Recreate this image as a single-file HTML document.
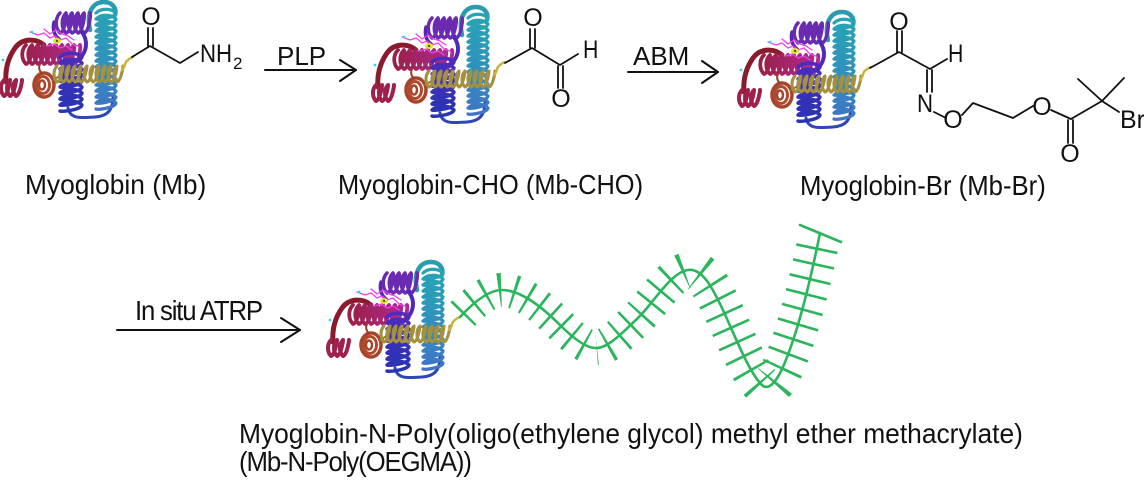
<!DOCTYPE html>
<html>
<head>
<meta charset="utf-8">
<style>
html,body{margin:0;padding:0;background:#fff;width:1144px;height:490px;overflow:hidden}
svg{display:block}
text{font-family:"Liberation Sans",sans-serif;fill:#111}
</style>
</head>
<body>
<svg width="1144" height="490" viewBox="0 0 1144 490" xmlns="http://www.w3.org/2000/svg">
<defs>
  <linearGradient id="gTeal" x1="0" y1="0" x2="0" y2="1">
    <stop offset="0" stop-color="#25a6b4"/>
    <stop offset="0.55" stop-color="#3090bd"/>
    <stop offset="1" stop-color="#3f74c6"/>
  </linearGradient>
  <linearGradient id="gBlue" x1="0" y1="0" x2="0" y2="1">
    <stop offset="0" stop-color="#4b2cc0"/>
    <stop offset="1" stop-color="#2834b2"/>
  </linearGradient>
  <linearGradient id="gMag" x1="0" y1="0" x2="1" y2="0">
    <stop offset="0" stop-color="#9a2046"/>
    <stop offset="1" stop-color="#b02a92"/>
  </linearGradient>
  <g id="prot" fill="none" stroke-linecap="round" stroke-linejoin="round">
    <path d="M68 108 C70 119 80 118 95 117 C108 116 113 110 113 96" stroke="#2f46b6" stroke-width="3"/>
    <path d="M90 30 C86 12 93 2 104 2 C112 2 117 8 115 15" stroke="#2a9cb0" stroke-width="4.5"/>
    <path stroke="url(#gTeal)" stroke-width="3.2" d="M96 13 c5 -5 15 -5 20 0 -1 5 -19 7 -20 6 5 -5 15 -5 20 0 -1 5 -19 7 -20 6 5 -5 15 -5 20 0 -1 5 -19 7 -20 6 5 -5 15 -5 20 0 -1 5 -19 7 -20 6 5 -5 15 -5 20 0 -1 5 -19 7 -20 6 5 -5 15 -5 20 0 -1 5 -19 7 -20 6 5 -5 15 -5 20 0 -1 5 -19 7 -20 6 5 -5 15 -5 20 0 -1 5 -19 7 -20 6 5 -5 15 -5 20 0 -1 5 -19 7 -20 6 5 -5 15 -5 20 0 -1 5 -19 7 -20 6 5 -5 15 -5 20 0 -1 5 -19 7 -20 6 5 -5 15 -5 20 0 -1 5 -19 7 -20 6 5 -5 15 -5 20 0 -1 5 -19 7 -20 6 5 -5 15 -5 20 0 -1 5 -19 7 -20 6 5 -5 15 -5 20 0 -1 5 -19 7 -20 6 5 -5 15 -5 20 0 -1 5 -19 7 -20 6"/>
    <path d="M54 22 C52 30 55 36 59 39" stroke="#5a26b0" stroke-width="3.5"/>
    <path stroke="#6a2ab2" stroke-width="3.5" d="M60 13 c-5 5 -5 15 0 20 5 -1 7 -19 6 -20 -5 5 -5 15 0 20 5 -1 7 -19 6 -20 -5 5 -5 15 0 20 5 -1 7 -19 6 -20 -5 5 -5 15 0 20 5 -1 7 -19 6 -20 -5 5 -5 15 0 20 5 -1 7 -19 6 -20"/>
    <path d="M44 45 C36 38 22 38 15 48 C8 58 5 70 6 82" stroke="#8a1a2c" stroke-width="5"/>
    <path stroke="#a0204c" stroke-width="4" d="M4 80 c-4 4 -4 12 0 16 4 -1 6 -15 6 -16 -4 4 -4 12 0 16 4 -1 6 -15 6 -16 -4 4 -4 12 0 16 4 -1 6 -15 6 -16"/>
    <path stroke="url(#gMag)" stroke-width="3.8" d="M26 45 c-5 5 -5 14 0 19 5 -1 7 -18 6 -19 -5 5 -5 14 0 19 5 -1 7 -18 6 -19 -5 5 -5 14 0 19 5 -1 7 -18 6 -19 -5 5 -5 14 0 19 5 -1 7 -18 6 -19 -5 5 -5 14 0 19 5 -1 7 -18 6 -19 -5 5 -5 14 0 19 5 -1 7 -18 6 -19 -5 5 -5 14 0 19 5 -1 7 -18 6 -19 -5 5 -5 14 0 19 5 -1 7 -18 6 -19 -5 5 -5 14 0 19 5 -1 7 -18 6 -19"/>
    <ellipse cx="44" cy="85" rx="10" ry="12" stroke="#a8442a" stroke-width="3.5"/>
    <ellipse cx="43" cy="85" rx="6.5" ry="8.5" stroke="#b04a2e" stroke-width="3"/>
    <ellipse cx="42" cy="85" rx="3" ry="4.5" stroke="#a8442a" stroke-width="2.5"/>
    <path d="M40 64 C38 68 40 72 42 73" stroke="#9a3a28" stroke-width="2"/>
    <path d="M53 80 C56 78 58 77 60 76" stroke="#9a6a30" stroke-width="2"/>
    <path stroke="url(#gBlue)" stroke-width="3.4" d="M60 57 c5 -5 17 -5 22 0 -1 5 -21 7 -22 6 5 -5 17 -5 22 0 -1 5 -21 7 -22 6 5 -5 17 -5 22 0 -1 5 -21 7 -22 6 5 -5 17 -5 22 0 -1 5 -21 7 -22 6 5 -5 17 -5 22 0 -1 5 -21 7 -22 6 5 -5 17 -5 22 0 -1 5 -21 7 -22 6 5 -5 17 -5 22 0 -1 5 -21 7 -22 6 5 -5 17 -5 22 0 -1 5 -21 7 -22 6 5 -5 17 -5 22 0 -1 5 -21 7 -22 6"/>
    <path d="M82 32 C89 42 86 52 80 58" stroke="#4e2ab8" stroke-width="4"/>
    <path stroke="#a39040" stroke-width="3.1" d="M57 66 c-4 4 -4 12 0 16 4 -1 6 -15 6 -16 -4 4 -4 12 0 16 4 -1 6 -15 6 -16 -4 4 -4 12 0 16 4 -1 6 -15 6 -16 -4 4 -4 12 0 16 4 -1 6 -15 6 -16 -4 4 -4 12 0 16 4 -1 6 -15 6 -16 -4 4 -4 12 0 16 4 -1 6 -15 6 -16 -4 4 -4 12 0 16 4 -1 6 -15 6 -16 -4 4 -4 12 0 16 4 -1 6 -15 6 -16 -4 4 -4 12 0 16 4 -1 6 -15 6 -16 -4 4 -4 12 0 16 4 -1 6 -15 6 -16 -4 4 -4 12 0 16 4 -1 6 -15 6 -16"/>
    <polyline points="30,32 38,35 44,33 50,38 55,36 60,40 66,38 72,44 78,46" stroke="#f040f0" stroke-width="1.3"/>
    <polyline points="44,29 50,34 56,30 62,34 68,36 74,40" stroke="#f040f0" stroke-width="1.3"/>
    <polyline points="48,46 54,44 60,48 66,46 72,50" stroke="#f040f0" stroke-width="1.3"/>
    <ellipse cx="57" cy="41" rx="4" ry="3" fill="#e8e030" stroke="none"/>
    <circle cx="57" cy="41" r="1.2" fill="#506020" stroke="none"/>
    <circle cx="32" cy="32" r="1.4" fill="#30d8f0" stroke="none"/>
    <circle cx="3" cy="60" r="1.4" fill="#30d8f0" stroke="none"/>
    <path d="M122 70 C126 66 124 62 128 60 C130 58 131 58 133 57" stroke="#c8b43c" stroke-width="2.5"/>
  </g>
</defs>

<rect width="1144" height="490" fill="#fff"/>

<use href="#prot" transform="translate(0,0)"/>
<use href="#prot" transform="translate(372,5)"/>
<use href="#prot" transform="translate(738,10)"/>
<use href="#prot" transform="translate(327,260)"/>

<g stroke="#111" stroke-width="1.8" fill="none" stroke-linecap="round" stroke-linejoin="round">
  <polyline points="132,57 150,46 180,63 198,52"/>
  <line x1="148" y1="28" x2="148" y2="46"/>
  <line x1="153" y1="28" x2="153" y2="46"/>
  <polyline points="505,63 532,48 560,65 578,54"/>
  <line x1="530" y1="29" x2="530" y2="48"/>
  <line x1="535" y1="29" x2="535" y2="48"/>
  <line x1="558" y1="66" x2="558" y2="88"/>
  <line x1="563" y1="66" x2="563" y2="88"/>
  <polyline points="870,68 899,52 930,69 947,59"/>
  <line x1="897" y1="31" x2="897" y2="52"/>
  <line x1="902" y1="31" x2="902" y2="52"/>
  <line x1="927" y1="70" x2="927" y2="92"/>
  <line x1="932" y1="70" x2="932" y2="92"/>
  <line x1="934" y1="112" x2="946" y2="118"/>
  <polyline points="962,115 973,103 1013,118 1033,106"/>
  <line x1="1051" y1="110" x2="1071" y2="119"/>
  <line x1="1068" y1="120" x2="1068" y2="143"/>
  <line x1="1073" y1="120" x2="1073" y2="143"/>
  <line x1="1071" y1="119" x2="1102" y2="101"/>
  <line x1="1102" y1="101" x2="1078" y2="79"/>
  <line x1="1102" y1="101" x2="1124" y2="78"/>
  <line x1="1102" y1="101" x2="1119" y2="112"/>
</g>

<g stroke="#111" stroke-width="2" fill="none" stroke-linecap="round" stroke-linejoin="round">
  <line x1="265" y1="70" x2="356" y2="70"/>
  <polyline points="340,60 356,70 340,81"/>
  <line x1="628" y1="72" x2="718" y2="72"/>
  <polyline points="702,61 718,72 702,83"/>
  <line x1="117" y1="330" x2="300" y2="330"/>
  <polyline points="281,318 300,330 281,342"/>
</g>

<g fill="none" stroke="#2bb55c">
  <path d="M460 317 C472 304 488 290 502 290 C520 290 540 305 560 325 C575 340 588 349 597 348" stroke-width="34" stroke-dasharray="2.6 12" stroke-dashoffset="-4"/>
  <path d="M597 348 C610 347 625 330 640 316 C655 300 672 272 688 270" stroke-width="36" stroke-dasharray="2.6 12.5" stroke-dashoffset="-10"/>
  <path d="M688 270 C702 268 712 287 722 308 C736 338 750 375 763 386" stroke-width="40" stroke-dasharray="2.6 13" stroke-dashoffset="-12"/>
  <path d="M763 386 C775 393 787 360 797 328 C806 298 813 268 819 238" stroke-width="42" stroke-dasharray="2.6 13" stroke-dashoffset="-12"/>
  <path d="M460 317 C472 304 488 290 502 290 C520 290 540 305 560 325 C575 340 588 349 597 348 C610 347 625 330 640 316 C655 300 672 272 688 270 C702 268 712 287 722 308 C736 338 750 375 763 386 C775 393 787 360 797 328 C806 298 813 268 820 233" stroke-width="2.6" stroke-linecap="round"/>
  <line x1="800" y1="225" x2="841" y2="242" stroke-width="2.6" stroke-linecap="round"/>
</g>

<g font-size="25">
  <text x="151" y="25" text-anchor="middle">O</text>
  <text transform="translate(200,62) scale(0.89,1)">NH</text>
  <text x="233" y="69" font-size="17">2</text>
  <text x="533" y="26" text-anchor="middle">O</text>
  <text transform="translate(583,58) scale(0.85,1)">H</text>
  <text x="561" y="107" text-anchor="middle">O</text>
  <text x="899" y="30" text-anchor="middle">O</text>
  <text transform="translate(948,62) scale(0.85,1)">H</text>
  <text transform="translate(917,112) scale(0.89,1)">N</text>
  <text x="953" y="128" text-anchor="middle">O</text>
  <text x="1042" y="115" text-anchor="middle">O</text>
  <text x="1070" y="162" text-anchor="middle">O</text>
  <text x="1120" y="128">Br</text>
</g>

<text x="277" y="65" font-size="26">PLP</text>
<text x="633" y="65" font-size="26">ABM</text>
<text font-size="28" letter-spacing="-1.3" transform="translate(135,320) scale(0.92,1)">In situ ATRP</text>

<text font-size="28" transform="translate(25,194) scale(0.94,1)">Myoglobin (Mb)</text>
<text font-size="28" transform="translate(338,194) scale(0.908,1)">Myoglobin-CHO (Mb-CHO)</text>
<text font-size="28" transform="translate(800,195) scale(0.919,1)">Myoglobin-Br (Mb-Br)</text>
<text font-size="28" transform="translate(239,443) scale(0.942,1)">Myoglobin-N-Poly(oligo(ethylene glycol) methyl ether methacrylate)</text>
<text font-size="28" letter-spacing="-1.2" transform="translate(239,471) scale(0.92,1)">(Mb-N-Poly(OEGMA))</text>
</svg>
</body>
</html>
